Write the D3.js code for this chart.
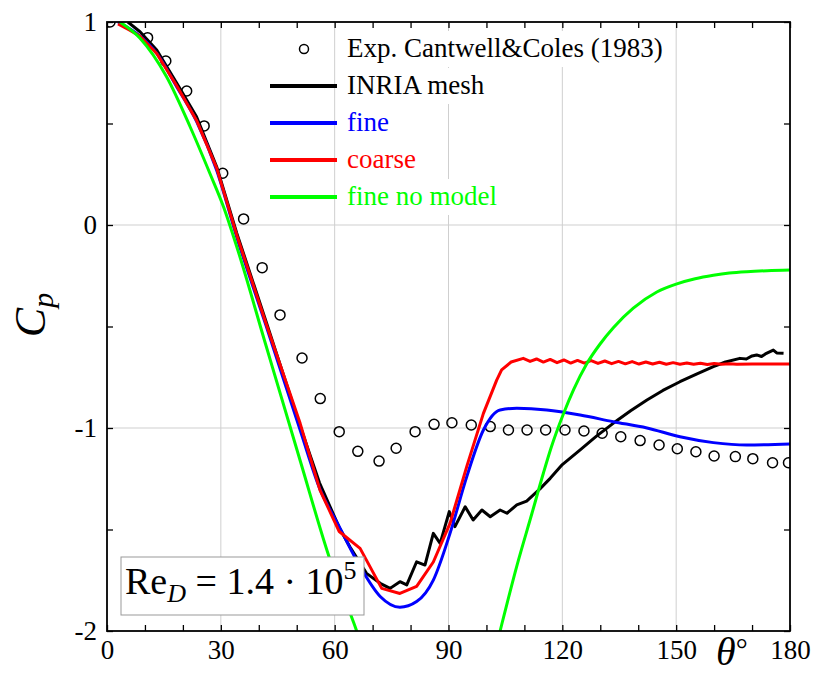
<!DOCTYPE html>
<html>
<head>
<meta charset="utf-8">
<script src="https://cdn.jsdelivr.net/npm/d3@7"></script>
<style>
  body { margin: 0; background: #fff; }
  svg text { font-family: "Liberation Serif", "DejaVu Serif", serif; }
</style>
</head>
<body>
<svg id="chart" width="815" height="675" font-family="Liberation Serif, DejaVu Serif, serif"></svg>
<script>
// experiment, Cantwell & Coles (1983)
const expTheta = [0.8, 10.7, 15.5, 21.0, 25.6, 30.5, 36.0, 40.9, 45.6, 51.4, 56.2, 61.2, 66.1, 71.7, 76.2, 81.2, 86.2, 90.9, 96.0, 101.0, 105.8, 110.7, 115.6, 120.7, 125.7, 130.5, 135.4, 140.5, 145.5, 150.3, 155.2, 160.0, 165.6, 170.2, 175.4, 179.6];
const expCp = [1.0, 0.923, 0.808, 0.66, 0.488, 0.255, 0.03, -0.21, -0.443, -0.655, -0.855, -1.018, -1.115, -1.163, -1.1, -1.018, -0.982, -0.974, -0.985, -0.993, -1.01, -1.01, -1.01, -1.01, -1.015, -1.026, -1.043, -1.062, -1.084, -1.102, -1.117, -1.138, -1.141, -1.151, -1.171, -1.171];

// INRIA mesh
const inriaTheta = [5.5, 8.7, 13.1, 18.4, 23.6, 28.9, 34.2, 42, 50.9, 56, 61.2, 64, 68.4, 72, 74.6, 77.2, 79, 81.6, 83.8, 86, 87.8, 90.2, 91.7, 94.4, 96.5, 98.8, 101, 103.6, 105.4, 108, 110.6, 114.1, 116.8, 120, 124.7, 129, 133.4, 138, 142.3, 146.5, 151, 155.5, 159.8, 163, 166.8, 168.5, 170, 171.2, 172.5, 173.5, 175.6, 176.5, 178.3];
const inriaCp = [1.0, 0.952, 0.862, 0.698, 0.533, 0.287, -0.04, -0.48, -0.99, -1.27, -1.49, -1.585, -1.716, -1.765, -1.79, -1.757, -1.773, -1.659, -1.675, -1.519, -1.568, -1.412, -1.486, -1.388, -1.453, -1.404, -1.437, -1.404, -1.42, -1.379, -1.36, -1.3, -1.248, -1.18, -1.108, -1.04, -0.977, -0.915, -0.862, -0.815, -0.772, -0.733, -0.698, -0.675, -0.657, -0.66, -0.645, -0.64, -0.648, -0.635, -0.616, -0.63, -0.632];

// fine
const fineTheta = [2.9, 8.7, 13.1, 18.4, 23.6, 28.9, 34.2, 42, 50.9, 56.1, 61.2, 66.7, 72, 77.2, 81.6, 86, 90.4, 94.8, 99.2, 103.6, 108, 115.9, 124.7, 133.4, 142.3, 151, 159.8, 168.6, 180];
const fineCp = [1.0, 0.93, 0.845, 0.68, 0.51, 0.27, -0.06, -0.5, -1.01, -1.3, -1.486, -1.683, -1.83, -1.883, -1.855, -1.749, -1.519, -1.24, -1.01, -0.911, -0.903, -0.911, -0.936, -0.969, -1.0, -1.043, -1.072, -1.084, -1.079];

// coarse
const coarseTheta = [2.9, 6, 8.7, 13.1, 18.4, 23.6, 28.9, 34.2, 42, 50.9, 56.1, 61.2, 66.7, 72.4, 77.2, 81.6, 86, 90.4, 94.8, 99.2, 102.7, 104, 106.5, 109.7, 111.5, 113.2, 115, 116.8, 118.6, 120.4, 122.2, 124, 125.8, 127.6, 129.4, 131.2, 133, 134.8, 136.6, 138.4, 140.2, 142, 143.8, 145.6, 147.4, 149.2, 151, 152.8, 154.6, 156.4, 158.2, 160, 162, 164, 166, 170, 175, 180];
const coarseCp = [0.99, 0.96, 0.93, 0.845, 0.685, 0.515, 0.28, -0.05, -0.49, -0.977, -1.305, -1.51, -1.593, -1.79, -1.815, -1.78, -1.66, -1.47, -1.19, -0.928, -0.764, -0.714, -0.675, -0.657, -0.672, -0.66, -0.675, -0.662, -0.678, -0.665, -0.68, -0.667, -0.68, -0.668, -0.682, -0.67, -0.683, -0.672, -0.684, -0.673, -0.685, -0.675, -0.685, -0.676, -0.686, -0.678, -0.686, -0.68, -0.686, -0.681, -0.687, -0.682, -0.686, -0.684, -0.686, -0.685, -0.685, -0.685];

// fine no model
const noModelTheta = [3.4, 8.7, 15.7, 21.9, 27.1, 30.7, 34.2, 42, 50.9, 58.8, 65.8, 68, 102, 103.6, 108, 112, 115, 117, 120.3, 123, 126.4, 130, 133.5, 138.7, 144.9, 150.2, 155, 159.8, 164, 168.6, 174, 180];
const noModelCp = [1.0, 0.92, 0.73, 0.484, 0.255, 0.09, -0.107, -0.6, -1.16, -1.65, -2.0, -2.12, -2.12, -2.0, -1.68, -1.42, -1.223, -1.1, -0.93, -0.81, -0.685, -0.585, -0.505, -0.41, -0.33, -0.29, -0.265, -0.248, -0.237, -0.23, -0.225, -0.222];

const xMajor = [0, 30, 60, 90, 120, 150, 180];
const yMajor = [1, 0, -1, -2];

const series = [
  {name: "INRIA mesh", theta: inriaTheta, cp: inriaCp, color: "#000000", curve: d3.curveLinear},
  {name: "fine", theta: fineTheta, cp: fineCp, color: "#0000ff", curve: d3.curveMonotoneX},
  {name: "coarse", theta: coarseTheta, cp: coarseCp, color: "#ff0000", curve: d3.curveLinear},
  {name: "fine no model", theta: noModelTheta, cp: noModelCp, color: "#00ff00", curve: d3.curveMonotoneX}
];

const margin = {top: 22, right: 25, bottom: 44, left: 107};
const width = 815 - margin.left - margin.right;
const height = 675 - margin.top - margin.bottom;

const svg = d3.select("#chart");
const g = svg.append("g").attr("transform", `translate(${margin.left},${margin.top})`);

const x = d3.scaleLinear().domain([0, 180]).range([0, width]);
const y = d3.scaleLinear().domain([-2, 1]).range([height, 0]);

//grid
g.append("g").selectAll("line").data([30, 60, 90, 120, 150]).join("line")
  .attr("x1", d => x(d)).attr("x2", d => x(d)).attr("y1", 0).attr("y2", height)
  .attr("stroke", "#cfcfcf").attr("stroke-width", 1);
g.append("g").selectAll("line").data([0, -1]).join("line")
  .attr("x1", 0).attr("x2", width).attr("y1", d => y(d)).attr("y2", d => y(d))
  .attr("stroke", "#cfcfcf").attr("stroke-width", 1);

g.append("clipPath").attr("id", "clip").append("rect").attr("width", width).attr("height", height);
const plot = g.append("g").attr("clip-path", "url(#clip)");

//experiment circles
plot.append("g").selectAll("circle").data(expTheta.map((t, i) => [t, expCp[i]])).join("circle")
  .attr("cx", d => x(d[0])).attr("cy", d => y(d[1])).attr("r", 5)
  .attr("fill", "none").attr("stroke", "#000").attr("stroke-width", 1.5);

//simulation lines
series.forEach(s => {
  const line = d3.line().x(d => x(d[0])).y(d => y(d[1])).curve(s.curve);
  plot.append("path")
    .datum(s.theta.map((t, i) => [t, s.cp[i]]))
    .attr("fill", "none").attr("stroke", s.color).attr("stroke-width", 3)
    .attr("stroke-linejoin", "round").attr("d", line);
});

/* Axes, ticks inward on all sides */
const tickFont = g => {
  g.select(".domain").remove();
  g.attr("font-family", null);
  g.selectAll(".tick line").attr("stroke", "#000").attr("stroke-width", 1.3);
  g.selectAll("text").attr("font-size", 27).attr("fill", "#000");
};
const fmt = d => String(d).replace("\u2212", "-");

g.append("g").attr("transform", `translate(0,${height})`)
  .call(d3.axisBottom(x).tickValues(d3.range(0, 181, 10)).tickSize(-6).tickFormat(""))
  .call(tickFont);
g.append("g").attr("transform", `translate(0,${height})`)
  .call(d3.axisBottom(x).tickValues(xMajor).tickSize(0).tickPadding(9).tickFormat(fmt))
  .call(tickFont);
g.append("g")
  .call(d3.axisTop(x).tickValues(d3.range(0, 181, 10)).tickSize(-6).tickFormat(""))
  .call(tickFont);
g.append("g")
  .call(d3.axisLeft(y).tickValues(d3.range(-2, 1.01, 0.5)).tickSize(-6).tickFormat(""))
  .call(tickFont);
g.append("g")
  .call(d3.axisLeft(y).tickValues(yMajor).tickSize(0).tickPadding(10).tickFormat(fmt))
  .call(tickFont);
g.append("g").attr("transform", `translate(${width},0)`)
  .call(d3.axisRight(y).tickValues(d3.range(-2, 1.01, 0.5)).tickSize(-6).tickFormat(""))
  .call(tickFont);

g.append("rect").attr("width", width).attr("height", height)
  .attr("fill", "none").attr("stroke", "#000").attr("stroke-width", 1.8);

//axis titles
const cp = svg.append("text").attr("transform", "translate(45,315) rotate(-90)")
  .attr("text-anchor", "middle").attr("font-style", "italic").attr("font-size", 44);
cp.append("tspan").text("C");
cp.append("tspan").attr("font-size", 30).attr("dy", 8).text("p");

const th = svg.append("text").attr("x", 716).attr("y", 665).attr("font-size", 40);
th.append("tspan").attr("font-style", "italic").text("θ");
th.append("tspan").attr("font-size", 30).attr("dy", -6).text("°");

/* Legend */
const legend = svg.append("g");
const legendItems = [{name: "Exp. Cantwell&Coles (1983)", color: "#000", marker: true}]
  .concat(series.map(s => ({name: s.name, color: s.color, marker: false})));
legendItems.forEach((d, i) => {
  const ly = 49 + i * 37;
  const row = legend.append("g");
  if (d.marker) {
    row.append("circle").attr("cx", 304).attr("cy", ly).attr("r", 4.5)
      .attr("fill", "none").attr("stroke", "#000").attr("stroke-width", 1.5);
  } else {
    row.append("line").attr("x1", 270).attr("x2", 337).attr("y1", ly).attr("y2", ly)
      .attr("stroke", d.color).attr("stroke-width", 4);
  }
  const t = row.append("text").attr("x", 347).attr("y", ly + 8)
    .attr("font-size", 27).attr("fill", d.color).text(d.name);
  const b = t.node().getBBox();
  row.insert("rect", "text").attr("x", b.x - 2).attr("y", ly - 18).attr("width", b.width + 4)
    .attr("height", 36).attr("fill", "#fff");
});

/* Reynolds box */
svg.append("rect").attr("x", 121).attr("y", 557).attr("width", 243).attr("height", 58)
  .attr("fill", "#fff").attr("stroke", "#999").attr("stroke-width", 1);
const re = svg.append("text").attr("x", 125).attr("y", 594).attr("font-size", 38);
re.append("tspan").text("Re");
re.append("tspan").attr("font-style", "italic").attr("font-size", 26).attr("dy", 8).text("D");
re.append("tspan").attr("dy", -8).text(" = 1.4 · 10");
re.append("tspan").attr("font-size", 26).attr("dy", -15).text("5");
</script>
</body>
</html>
